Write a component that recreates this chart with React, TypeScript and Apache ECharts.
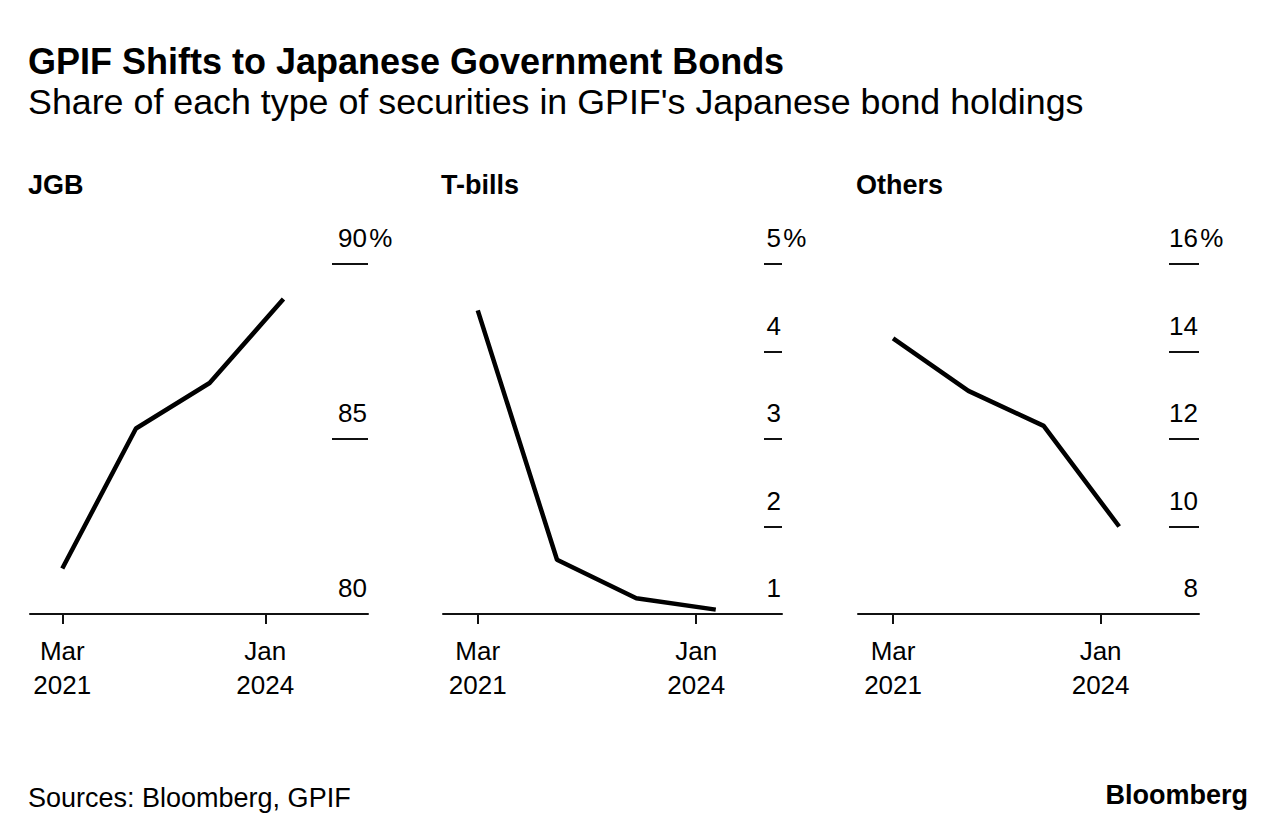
import React, { useEffect, useRef } from "react";
import * as echarts from "echarts";

const dates = ["2021-03-31", "2022-03-31", "2023-03-31", "2024-03-31"];
const panelTitles = ["JGB", "T-bills", "Others"];
const jgb = [81.3, 85.3, 86.6, 89.0];
const tbills = [4.47, 1.62, 1.18, 1.05];
const others = [14.3, 13.1, 12.3, 10.0];
const yMins = [80, 1, 8];
const yMaxs = [90, 5, 16];
const yIntervals = [5, 1, 2];
const xTickDates = ["2021-03-31", "2024-01-01"];
const xTickLabels = ["Mar\n2021", "Jan\n2024"];
const xMins = ["2020-10-22", "2020-10-22", "2020-10-12"];
const xMaxs = ["2025-05-24", "2025-01-30", "2025-04-22"];

const FONT = "'Liberation Sans', Arial, sans-serif";

export default function App() {
  const ref = useRef<HTMLDivElement>(null);
  useEffect(() => {
    document.body.style.margin = "0";
    const chart = echarts.init(ref.current!, null, { renderer: "svg" });
    const series = [jgb, tbills, others];
    const lefts = [30, 443, 858];
    const widths = [338, 339, 341];
    const tickLens = [36, 18, 30];
    const ts = (s: string) => new Date(s + "T00:00:00Z").getTime();
    const tickTs = xTickDates.map(ts);

    const grid = lefts.map((l, i) => ({ left: l, top: 264, width: widths[i], height: 350 }));
    const xAxis = lefts.map((_, i) => ({
      type: "value",
      gridIndex: i,
      min: ts(xMins[i]),
      max: ts(xMaxs[i]),
      splitLine: { show: false },
      axisLine: { show: true, lineStyle: { color: "#111", width: 2 } },
      axisTick: {
        show: true,
        customValues: tickTs,
        length: 10,
        lineStyle: { color: "#111", width: 2 },
      },
      axisLabel: {
        customValues: tickTs,
        showMinLabel: true,
        showMaxLabel: true,
        formatter: (v: number) => {
          let best = 0;
          tickTs.forEach((t, k) => {
            if (Math.abs(t - v) < Math.abs(tickTs[best] - v)) best = k;
          });
          return xTickLabels[best];
        },
        fontFamily: FONT,
        fontSize: 26,
        lineHeight: 34,
        color: "#000",
        margin: 20,
        hideOverlap: false,
      },
    }));
    const yAxis = lefts.map((_, i) => ({
      type: "value",
      gridIndex: i,
      position: "right",
      min: yMins[i],
      max: yMaxs[i],
      interval: yIntervals[i],
      splitLine: { show: false },
      axisLine: { show: false },
      axisTick: {
        show: true,
        inside: true,
        length: tickLens[i],
        lineStyle: { color: "#111", width: 2 },
      },
      axisLabel: {
        inside: true,
        margin: 1,
        align: "right",
        verticalAlign: "bottom",
        padding: [0, 0, 12, 0],
        formatter: (v: number) =>
          v === yMaxs[i] ? `{n|${v}}{p|\u200A%}` : `{n|${v}}`,
        rich: {
          n: { fontFamily: FONT, fontSize: 26, color: "#000", lineHeight: 28, align: "left" },
          p: { fontFamily: FONT, fontSize: 26, color: "#000", lineHeight: 28, width: 0, align: "left" },
        },
      },
    }));
    const lineSeries = series.map((vals, i) => ({
      type: "line",
      xAxisIndex: i,
      yAxisIndex: i,
      data: dates.map((d, k) => [ts(d), vals[k]]),
      showSymbol: false,
      lineStyle: { color: "#000", width: 4.5 },
      itemStyle: { color: "#000" },
    }));

    const graphic: any[] = [
      {
        type: "text",
        x: 28,
        y: 61,
        style: {
          text: "GPIF Shifts to Japanese Government Bonds",
          font: `bold 36px ${FONT}`,
          fill: "#000",
          verticalAlign: "middle",
        },
      },
      {
        type: "text",
        x: 28,
        y: 102,
        style: {
          text: "Share of each type of securities in GPIF's Japanese bond holdings",
          font: `35.8px ${FONT}`,
          fill: "#000",
          verticalAlign: "middle",
        },
      },
      ...panelTitles.map((t, i) => ({
        type: "text",
        x: lefts[i] - 2,
        y: 185,
        style: { text: t, font: `bold 27px ${FONT}`, fill: "#000", verticalAlign: "middle" },
      })),
      {
        type: "text",
        x: 28,
        y: 798,
        style: { text: "Sources: Bloomberg, GPIF", font: `27px ${FONT}`, fill: "#000", verticalAlign: "middle" },
      },
      {
        type: "text",
        x: 1248,
        y: 795,
        style: { text: "Bloomberg", font: `bold 27px ${FONT}`, fill: "#000", align: "right", verticalAlign: "middle" },
      },
    ];

    chart.setOption({
      animation: false,
      backgroundColor: "#fff",
      grid,
      xAxis,
      yAxis,
      series: lineSeries,
      graphic,
    });
    return () => chart.dispose();
  }, []);
  return <div ref={ref} style={{ width: 1286, height: 840 }} />;
}
